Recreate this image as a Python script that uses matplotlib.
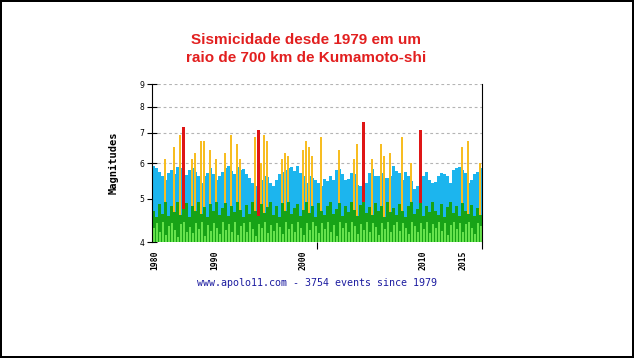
import matplotlib
matplotlib.use("Agg")
import matplotlib.pyplot as plt
import numpy as np
from matplotlib.ticker import FixedLocator, NullFormatter, NullLocator

# chart data, one column ~ 34 events
blue_top = [5.92, 5.84, 5.72, 5.60, 5.50, 5.70, 5.80, 5.66, 5.88, 5.86,
            5.78, 5.64, 5.80, 5.84, 5.74, 5.60, 5.42, 5.62, 5.70, 5.84,
            5.66, 5.50, 5.62, 5.72, 5.84, 5.90, 5.76, 5.66, 5.88, 5.78,
            5.82, 5.66, 5.56, 5.42, 5.32, 5.70, 5.50, 5.62, 5.58, 5.42,
            5.32, 5.50, 5.66, 5.72, 5.80, 5.84, 5.88, 5.76, 5.90, 5.70,
            5.60, 5.42, 5.62, 5.56, 5.50, 5.42, 5.32, 5.52, 5.48, 5.62,
            5.50, 5.80, 5.82, 5.66, 5.50, 5.52, 5.70, 5.66, 5.36, 5.32,
            5.30, 5.42, 5.70, 5.82, 5.60, 5.62, 5.70, 5.56, 5.56, 5.62,
            5.90, 5.76, 5.70, 5.50, 5.72, 5.60, 5.48, 5.26, 5.32, 5.42,
            5.60, 5.72, 5.50, 5.42, 5.44, 5.60, 5.70, 5.66, 5.60, 5.42,
            5.80, 5.84, 5.88, 5.78, 5.70, 5.42, 5.50, 5.66, 5.72, 5.84]

green_dark = [4.70, 4.55, 4.85, 4.62, 4.90, 4.58, 4.80, 4.66, 4.92, 4.60,
              4.75, 4.88, 4.55, 4.80, 4.68, 4.90, 4.62, 4.78, 4.55, 4.85,
              4.70, 4.92, 4.60, 4.76, 4.88, 4.58, 4.82, 4.66, 4.90, 4.72,
              4.55, 4.84, 4.62, 4.92, 4.70, 4.58, 4.86, 4.64, 4.78, 4.92,
              4.60, 4.80, 4.55, 4.88, 4.68, 4.90, 4.62, 4.76, 4.85, 4.58,
              4.72, 4.92, 4.65, 4.80, 4.55, 4.88, 4.70, 4.60, 4.82, 4.92,
              4.62, 4.75, 4.88, 4.58, 4.80, 4.66, 4.90, 4.72, 4.56, 4.84,
              4.92, 4.64, 4.78, 4.60, 4.88, 4.70, 4.82, 4.55, 4.90, 4.66,
              4.76, 4.60, 4.86, 4.70, 4.55, 4.80, 4.92, 4.62, 4.74, 4.88,
              4.58, 4.82, 4.66, 4.90, 4.70, 4.60, 4.85, 4.55, 4.78, 4.92,
              4.64, 4.80, 4.58, 4.88, 4.70, 4.62, 4.84, 4.56, 4.76, 4.60]

green_light = [4.30, 4.40, 4.20, 4.44, 4.15, 4.35, 4.42, 4.25, 4.10, 4.38,
               4.44, 4.22, 4.32, 4.18, 4.40, 4.28, 4.44, 4.12, 4.36, 4.24,
               4.42, 4.30, 4.16, 4.44, 4.26, 4.38, 4.20, 4.44, 4.14, 4.34,
               4.40, 4.22, 4.44, 4.28, 4.12, 4.38, 4.30, 4.44, 4.18, 4.36,
               4.24, 4.42, 4.32, 4.16, 4.44, 4.28, 4.38, 4.20, 4.44, 4.30,
               4.14, 4.40, 4.26, 4.44, 4.34, 4.18, 4.42, 4.28, 4.44, 4.22,
               4.36, 4.12, 4.44, 4.30, 4.40, 4.20, 4.44, 4.34, 4.16, 4.38,
               4.26, 4.44, 4.22, 4.42, 4.32, 4.14, 4.40, 4.28, 4.44, 4.20,
               4.36, 4.44, 4.24, 4.40, 4.30, 4.16, 4.44, 4.34, 4.22, 4.42,
               4.28, 4.44, 4.18, 4.38, 4.30, 4.44, 4.24, 4.40, 4.14, 4.36,
               4.44, 4.28, 4.42, 4.20, 4.38, 4.44, 4.30, 4.16, 4.42, 4.34]

spike_col = [4, 7, 9, 10, 13, 14, 16, 17, 19, 21, 24, 26, 28, 29, 34, 35, 36, 37,
             38, 43, 44, 45, 50, 51, 52, 53, 56, 62, 67, 68, 70, 73, 76, 77, 79,
             83, 86, 89, 103, 105, 109]
spike_mag = [6.1, 6.5, 6.9, 7.2, 6.1, 6.3, 6.7, 6.7, 6.4, 6.1, 6.3, 6.9, 6.6, 6.1,
             6.85, 7.1, 6.0, 6.9, 6.7, 6.1, 6.3, 6.2, 6.4, 6.7, 6.5, 6.2, 6.85,
             6.4, 6.1, 6.6, 7.4, 6.1, 6.6, 6.2, 6.3, 6.85, 6.0, 7.1, 6.5, 6.7, 6.0]

year_labels = ["1980", "1990", "2000", "2010", "2015"]
year_pos = [1.0, 21.0, 50.3, 90.3, 103.7]
mag_ticks = [4, 5, 6, 7, 8, 9]

C_LGREEN = "#66e24c"
C_DGREEN = "#17a317"
C_BLUE = "#1cb5ee"
C_ORANGE = "#f7bd22"
C_RED = "#df1616"

n = len(blue_top)
x = np.arange(n) + 0.5

fig = plt.figure(figsize=(6.34, 3.58), dpi=100)
fig.patch.set_facecolor("white")
fig.patch.set_edgecolor("black")
fig.patch.set_linewidth(1.5)

ax = fig.add_axes([152 / 634, 1 - 242 / 358, 330 / 634, 158 / 358])
ax.set_yscale("log")
ax.set_ylim(4, 9)
ax.set_xlim(0, n)

for m in [6, 7, 8, 9]:
    ax.axhline(m, color="#b4b4b4", lw=0.8, ls=(0, (2.5, 2.5)), zorder=0)

bottoms = 4
ax.bar(x, np.array(blue_top) - 4, bottom=bottoms, width=1.0, color=C_BLUE, lw=0,
       antialiased=False, zorder=2)

# orange / red spikes: narrow, so blue shows between neighbours
spike_colors = [C_RED if v >= 7 else C_ORANGE for v in spike_mag]
spike_w = [0.9 if v >= 7 else 0.62 for v in spike_mag]
spike_x = [c + 0.5 if v >= 7 else c + 0.35 for c, v in zip(spike_col, spike_mag)]
ax.bar(spike_x, np.array(spike_mag) - 4, bottom=bottoms, width=spike_w,
       color=spike_colors, lw=0, antialiased=False, snap=False, zorder=3)

ax.bar(x - 0.05, np.array(green_dark) - 4, bottom=bottoms, width=0.8, color=C_DGREEN, lw=0,
       antialiased=False, zorder=4)
ax.bar(x + 0.15, np.array(green_light) - 4, bottom=bottoms, width=0.55, color=C_LGREEN, lw=0,
       antialiased=False, zorder=5)

for s in ["top", "bottom"]:
    ax.spines[s].set_visible(False)
ax.spines["left"].set_color("black")
ax.spines["right"].set_color("black")
ax.spines["left"].set_zorder(6)
ax.spines["right"].set_zorder(6)

ax.yaxis.set_major_locator(FixedLocator(mag_ticks))
ax.yaxis.set_minor_locator(NullLocator())
ax.yaxis.set_minor_formatter(NullFormatter())
ax.set_yticklabels([str(m) for m in mag_ticks], fontsize=5.5)
ax.tick_params(axis="y", direction="inout", length=7, width=0.8, pad=2)

ax.set_xticks(year_pos)
ax.set_xticklabels(year_labels, rotation=90, fontsize=5.8, family="DejaVu Sans Mono",
                   fontweight="bold", va="top")
ax.tick_params(axis="x", length=0, pad=6)
ax.set_xticks([n / 2, n], minor=True)
ax.tick_params(axis="x", which="minor", direction="out", length=5, width=0.8)

ax.set_ylabel("Magnitudes", family="DejaVu Sans Mono", fontweight="bold", fontsize=7.5,
              labelpad=15)

fig.text(0.483, 0.888, "Sismicidade desde 1979 em um", color="#e21f1f", fontsize=11,
         fontweight="bold", family="Liberation Sans", ha="center", va="center")
fig.text(0.483, 0.838, "raio de 700 km de Kumamoto-shi", color="#e21f1f", fontsize=11,
         fontweight="bold", family="Liberation Sans", ha="center", va="center")
fig.text(0.5, 1 - 283 / 358, "www.apolo11.com - 3754 events since 1979", color="#1c1ca0",
         fontsize=7.2, family="DejaVu Sans Mono", ha="center", va="center")

fig.savefig("out.png", dpi=100, facecolor=fig.get_facecolor(), edgecolor=fig.get_edgecolor())
